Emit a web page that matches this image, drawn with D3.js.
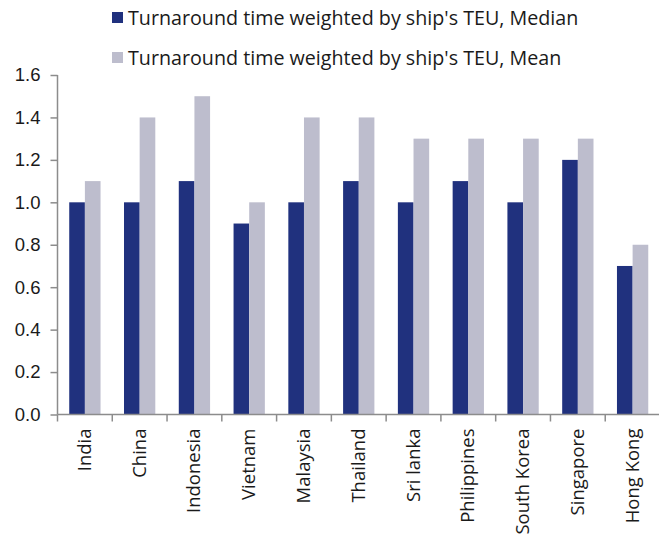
<!DOCTYPE html>
<html>
<head>
<meta charset="utf-8">
<script src="https://cdn.jsdelivr.net/npm/d3@7"></script>
<style>
  html, body { margin: 0; padding: 0; background: #fff; }
  svg { display: block; font-family: "Open Sans", "Noto Sans", sans-serif; }
</style>
</head>
<body>
<svg id="chart" width="659" height="542"></svg>
<script>
// Ports and turnaround times (days)
const categories = ["India", "China", "Indonesia", "Vietnam", "Malaysia", "Thailand",
  "Sri lanka", "Philippines", "South Korea", "Singapore", "Hong Kong"];
const medianValues = [1.0, 1.0, 1.1, 0.9, 1.0, 1.1, 1.0, 1.1, 1.0, 1.2, 0.7];
const meanValues   = [1.1, 1.4, 1.5, 1.0, 1.4, 1.4, 1.3, 1.3, 1.3, 1.3, 0.8];
const seriesNames = ["Turnaround time weighted by ship's TEU, Median",
                     "Turnaround time weighted by ship's TEU, Mean"];
const yTicks = [0, 0.2, 0.4, 0.6, 0.8, 1.0, 1.2, 1.4, 1.6];

const colors = ["#20317e", "#bdbdcd"];
const axisColor = "#8c8c8c";
const textColor = "#1a1a1a";

const svg = d3.select("#chart");
const plotLeft = 57.5, plotRight = 660, plotTop = 75, plotBottom = 414.5;

const x = d3.scaleBand().domain(categories).range([plotLeft, plotRight]).paddingInner(0).paddingOuter(0);
const xs = d3.scaleBand().domain([0, 1]).range([0, x.bandwidth()]).paddingInner(0).paddingOuter(0.75);
const y = d3.scaleLinear().domain([0, 1.6]).range([plotBottom, plotTop]);

const series = [medianValues, meanValues];

// Bars
const g = svg.append("g");
categories.forEach((c, i) => {
  series.forEach((vals, s) => {
    g.append("rect")
      .attr("x", x(c) + xs(s))
      .attr("y", y(vals[i]))
      .attr("width", xs.bandwidth())
      .attr("height", y(0) - y(vals[i]))
      .attr("fill", colors[s]);
  });
});

// Y axis
const yAxis = svg.append("g")
  .attr("transform", `translate(${plotLeft},0)`)
  .call(d3.axisLeft(y).tickValues(yTicks).tickFormat(d3.format(".1f")).tickSize(7).tickPadding(10));
yAxis.select(".domain").attr("stroke", axisColor).attr("stroke-width", 1.5)
  .attr("d", `M0,${plotTop}V${plotBottom}`);
yAxis.selectAll(".tick line").attr("stroke", axisColor).attr("stroke-width", 1.5);
yAxis.selectAll(".tick text").attr("fill", textColor).style("font-size", "18.5px");

// X axis with ticks at band boundaries
const xAxis = svg.append("g").attr("transform", `translate(0,${plotBottom})`);
xAxis.append("path").attr("d", `M${plotLeft},0H${plotRight}`).attr("stroke", axisColor).attr("stroke-width", 1.5);
categories.forEach(c => {
  xAxis.append("line").attr("x1", x(c)).attr("x2", x(c)).attr("y1", 0).attr("y2", 7)
    .attr("stroke", axisColor).attr("stroke-width", 1.5);
});
xAxis.selectAll("text.cat").data(categories).enter().append("text")
  .attr("class", "cat")
  .attr("transform", d => `translate(${x(d) + x.bandwidth() / 2 + 6},14) rotate(-90)`)
  .attr("text-anchor", "end")
  .attr("fill", textColor)
  .style("font-size", "18.5px")
  .text(d => d);

// Legend
const legend = svg.append("g");
seriesNames.forEach((name, i) => {
  const ly = 18 + i * 40;
  legend.append("rect").attr("x", 112).attr("y", ly - 6).attr("width", 11).attr("height", 11)
    .attr("fill", colors[i]);
  legend.append("text").attr("x", 128).attr("y", ly).attr("dy", "0.35em")
    .attr("fill", textColor).style("font-size", "19.7px").text(name);
});
</script>
</body>
</html>
